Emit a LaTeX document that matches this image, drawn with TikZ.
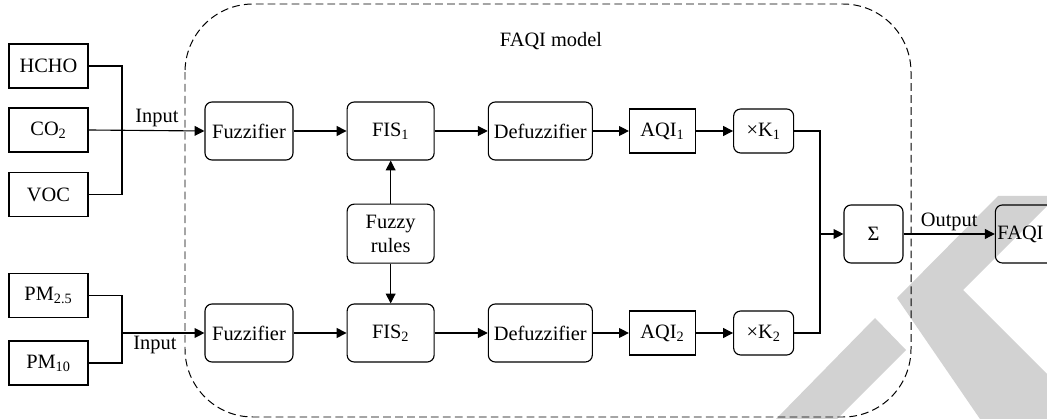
\documentclass[tikz,border=0pt]{standalone}
\usepackage{fontspec}
\setmainfont{Liberation Serif}
\usetikzlibrary{arrows.meta, positioning}

\begin{document}
\begin{tikzpicture}[
  x=0.025cm, y=-0.025cm,
  font=\fontsize{14.5}{17}\selectfont,
  node distance = 1.325cm,
  rbox/.style    = {draw, rounded corners=5pt, line width=0.8pt, inner sep=2pt,
                    minimum width=#1, minimum height=1.45cm, align=center},
  rbox/.default  = 2.2cm,
  sbox/.style    = {draw, line width=0.8pt, inner sep=2pt,
                    minimum width=#1, minimum height=1.1cm},
  sbox/.default  = 1.975cm,
  wire/.style    = {line width=0.8pt},
  arrow/.style   = {wire, -{Triangle[length=7pt,width=7pt]}},
  lbl/.style     = {inner sep=2pt},
  frame/.style   = {dashed, dash pattern=on 5.5pt off 3pt, line width=0.7pt,
                    rounded corners=1.7cm}
]
\useasboundingbox (0,0) rectangle (1047,419);

% grey stripes in the lower right corner
\fill[gray!35] (776,419) -- (875,318) -- (906,350) -- (837,419) -- cycle;
\fill[gray!35] (897,298) -- (998,196) -- (1047,196) -- (1047,206) -- (963,290)
  -- (1047,374) -- (1047,419) -- (980,419) -- cycle;

% model frame
\draw[frame] (185,4) rectangle (911,417);
\node[anchor=base west] (title) at (495,47) {FAQI model};

% inputs
\node[sbox] (hcho) at (48.5,66)    {HCHO};
\node[sbox] (co2)  at (48.5,130)   {CO\textsubscript{2}};
\node[sbox] (voc)  at (48.5,194.5) {VOC};
\node[sbox] (pm25) at (48.5,295.5) {PM\textsubscript{2.5}};
\node[sbox] (pm10) at (48.5,363)   {PM\textsubscript{10}};

% upper chain
\node[rbox]                              (fuz1) at (249,131) {Fuzzifier};
\node[rbox=2.175cm, right=of fuz1]       (fis1) {FIS\textsubscript{1}};
\node[rbox=2.6cm,   right=of fis1]       (def1) {Defuzzifier};
\node[sbox=1.65cm,  right=0.9cm of def1] (aqi1) {AQI\textsubscript{1}};
\node[rbox=1.5cm, minimum height=1.1cm, right=0.925cm of aqi1] (k1) {×K\textsubscript{1}};

% rule base
\node[rbox=2.175cm, minimum height=1.475cm, below=1.075cm of fis1] (rules) {Fuzzy\\rules};

% lower chain
\node[rbox]                              (fuz2) at (249,333) {Fuzzifier};
\node[rbox=2.175cm, right=of fuz2]       (fis2) {FIS\textsubscript{2}};
\node[rbox=2.6cm,   right=of fis2]       (def2) {Defuzzifier};
\node[sbox=1.65cm,  right=0.9cm of def2] (aqi2) {AQI\textsubscript{2}};
\node[rbox=1.5cm, minimum height=1.1cm, right=0.925cm of aqi2] (k2) {×K\textsubscript{2}};

% sum and result
\node[rbox=1.475cm] (sum) at (873.5,234) {Σ};
\node[rbox=1.5cm, inner xsep=1.5pt, text width=1.4cm, align=left,
      right=2.28cm of sum] (faqi) {FAQI};

% input buses
\coordinate (busA) at (122,0);
\coordinate (busB) at (122,0);
\draw[wire] (hcho.east) -| (busA |- voc.east) -- (voc.east);
\draw[arrow] (co2.east) -- (fuz1.west) node[lbl, above, pos=0.59] {Input};
\draw[wire] (pm25.east) -| (busB |- pm10.east) -- (pm10.east);
\draw[arrow] (busB |- fuz2.west) -- (fuz2.west) node[lbl, below, pos=0.4] {Input};

% chains
\foreach \s/\t in {fuz1/fis1, fis1/def1, def1/aqi1, aqi1/k1,
                   fuz2/fis2, fis2/def2, def2/aqi2, aqi2/k2}
  \draw[arrow] (\s) -- (\t);
\draw[arrow] (rules) -- (fis1);
\draw[arrow] (rules) -- (fis2);

% output bus
\coordinate (busC) at (820,0);
\draw[wire] (k1.east) -| (busC |- k2.east) -- (k2.east);
\draw[arrow] (busC |- sum.west) -- (sum.west);
\draw[arrow] (sum.east) -- (faqi.west) node[lbl, above, pos=0.5] {Output};

\end{tikzpicture}
\end{document}
